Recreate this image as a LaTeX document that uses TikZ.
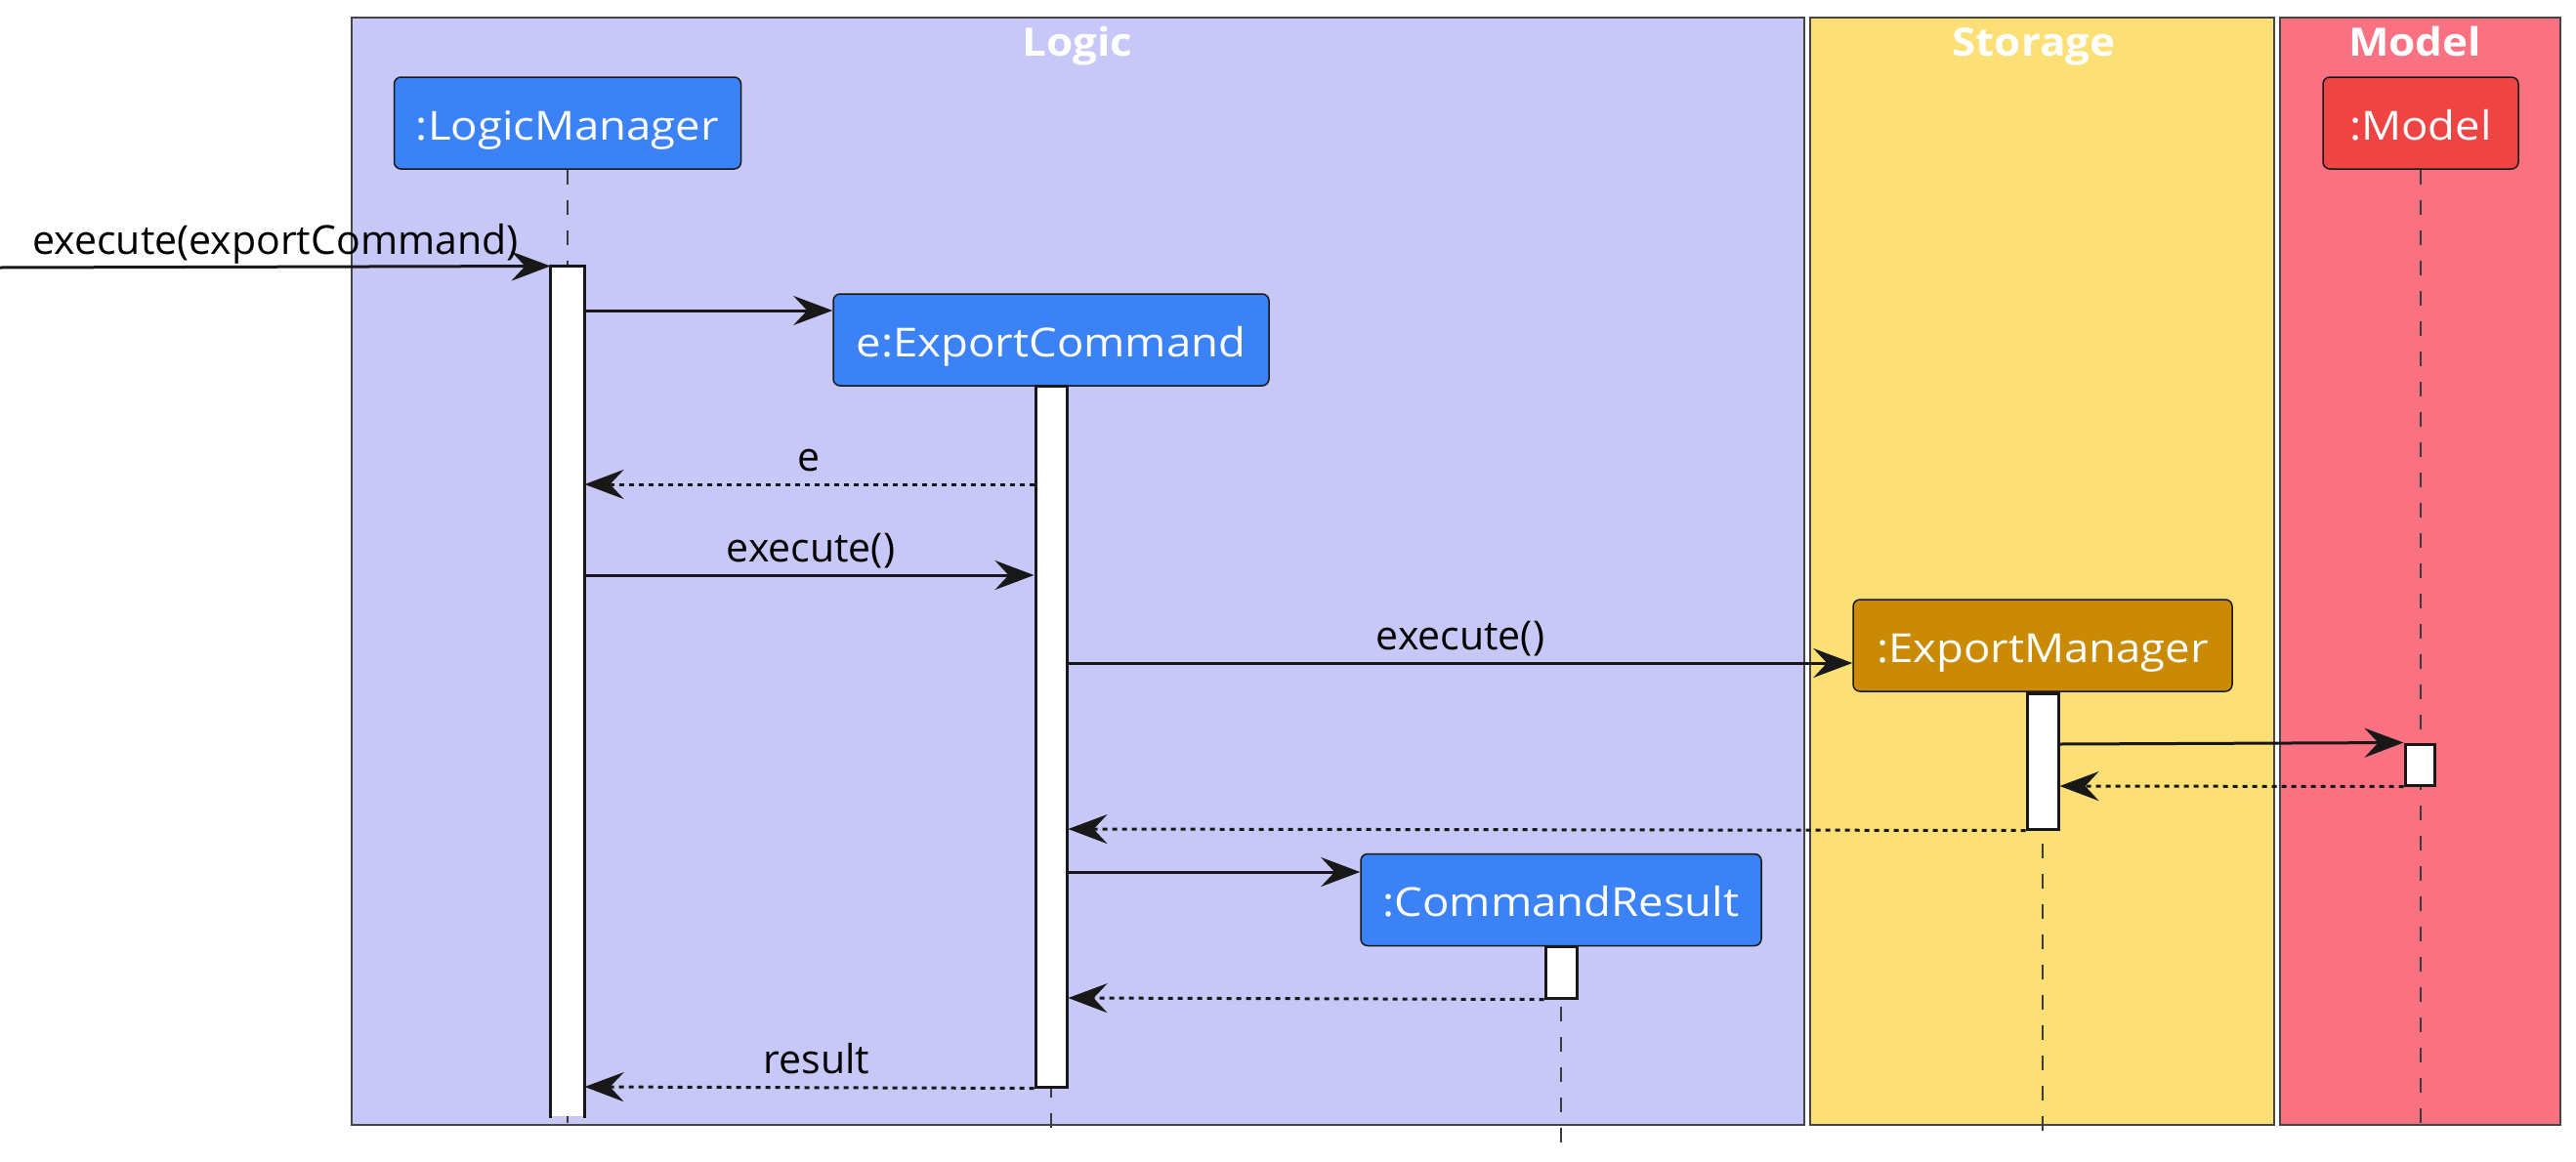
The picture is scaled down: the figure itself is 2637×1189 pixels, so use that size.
\documentclass[tikz,border=0pt]{standalone}
\usepackage{fontspec}
\setmainfont{Open Sans}
\newfontfamily\partfont{Open Sans}[FakeStretch=1.11]
\newfontfamily\titlefont{Open Sans}[FakeStretch=1.1]
\usetikzlibrary{arrows.meta}
\definecolor{logicbg}{RGB}{200,200,248}
\definecolor{storagebg}{RGB}{252,224,118}
\definecolor{modelbg}{RGB}{250,113,130}
\definecolor{partblue}{RGB}{59,130,246}
\definecolor{partgold}{RGB}{202,138,4}
\definecolor{partred}{RGB}{239,68,68}
\definecolor{ink}{RGB}{24,24,24}
\tikzset{
 grp/.style={draw=ink!80, line width=1.5pt},
 grptitle/.style={text=white, font=\titlefont\fontsize{40}{48}\selectfont\bfseries, anchor=base, inner sep=0pt},
 part/.style={draw=ink, line width=1.5pt, rounded corners=7pt, text=white, font=\partfont\fontsize{41}{49}\selectfont, minimum height=94pt, inner sep=0pt, anchor=center, text height=34pt, text depth=0pt},
 life/.style={draw=ink!85, line width=1.5pt, dash pattern=on 15pt off 16pt},
 actbar/.style={draw=ink, fill=white, line width=3pt, inner sep=0pt, minimum width=32pt},
 msg/.style={draw=ink, line width=3pt, -{Stealth[length=40pt,width=30pt,inset=14pt]}},
 ret/.style={msg, dash pattern=on 5pt off 5pt},
 lbl/.style={font=\fontsize{41}{49}\selectfont, text=black, anchor=base, inner sep=0pt},
}
\begin{document}
\begin{tikzpicture}[x=1pt,y=-1pt]
\useasboundingbox (0,0) rectangle (2637,1189);
% groups
\draw[grp, fill=logicbg] (360,18) rectangle (1847,1152);
\draw[grp, fill=storagebg] (1853,18) rectangle (2328,1152);
\draw[grp, fill=modelbg] (2334,18) rectangle (2621,1152);
\node[grptitle] (tlogic) at (1103,57) {Logic};
\node[grptitle] (tstorage) at (2082,57) {Storage};
\node[grptitle] (tmodel) at (2472,57) {Model};
% participants
\node[part, fill=partblue, minimum width=355pt] (lm) at (581,126) {:LogicManager};
\node[part, fill=partblue, minimum width=446pt] (ec) at (1076,348) {e:ExportCommand};
\node[part, fill=partgold, minimum width=388pt] (em) at (2091,661) {:ExportManager};
\node[part, fill=partblue, minimum width=410pt] (cr) at (1598,921.5) {:CommandResult};
\node[part, fill=partred, minimum width=200pt] (md) at (2478,126) {:Model};
% lifeline ends
\coordinate (lmend) at (581,1165);
\coordinate (ecend) at (1076,1165);
\coordinate (emend) at (2091,1163);
\coordinate (crend) at (1598,1172);
\coordinate (mdend) at (2478,1163);
\draw[life] (lm.south) -- (lmend);
\draw[life] (ec.south) -- (ecend);
\draw[life] (em.south) -- (emend);
\draw[life] (cr.south) -- (crend);
\draw[life] (md.south) -- (mdend);
% activation bars
\node[actbar, draw=none, minimum height=869pt] (lmbar) at (581,708.5) {};
\draw[draw=ink, line width=3pt] (lmbar.south west) -- (lmbar.north west) -- (lmbar.north east) -- (lmbar.south east);
\node[actbar, minimum height=718pt] (ecbar) at (1076,754) {};
\node[actbar, minimum height=139pt] (embar) at (2091,779.5) {};
\node[actbar, minimum width=30pt, minimum height=42pt] (mdbar) at (2477,783) {};
\node[actbar, minimum height=53pt] (crbar) at (1598,995.5) {};
% messages
\coordinate (entry) at (0,274);
\draw[msg] (entry) -- (lmbar.north west);
\node[lbl] (l1) at (282,260) {execute(exportCommand)};
\draw[msg] (lmbar.east |- 0,318) -- (ec.west |- 0,318);
\draw[ret] (ecbar.west |- 0,496) -- (lmbar.east |- 0,496);
\node[lbl] (l2) at (828,482) {e};
\draw[msg] (lmbar.east |- 0,589) -- (ecbar.west |- 0,589);
\node[lbl] (l3) at (830,575) {execute()};
\draw[msg] (ecbar.east |- 0,679) -- (em.west |- 0,679);
\node[lbl] (l4) at (1495,665) {execute()};
\draw[msg] (embar.east |- 0,762) -- (mdbar.north west);
\draw[ret] (mdbar.south west) -- (embar.east |- 0,805);
\draw[ret] (embar.south west) -- (ecbar.east |- 0,849);
\draw[msg] (ecbar.east |- 0,893) -- (cr.west |- 0,893);
\draw[ret] (crbar.south west) -- (ecbar.east |- 0,1022);
\draw[ret] (ecbar.south west) -- (lmbar.east |- 0,1113);
\node[lbl] (l5) at (836,1099) {result};
\end{tikzpicture}
\end{document}
